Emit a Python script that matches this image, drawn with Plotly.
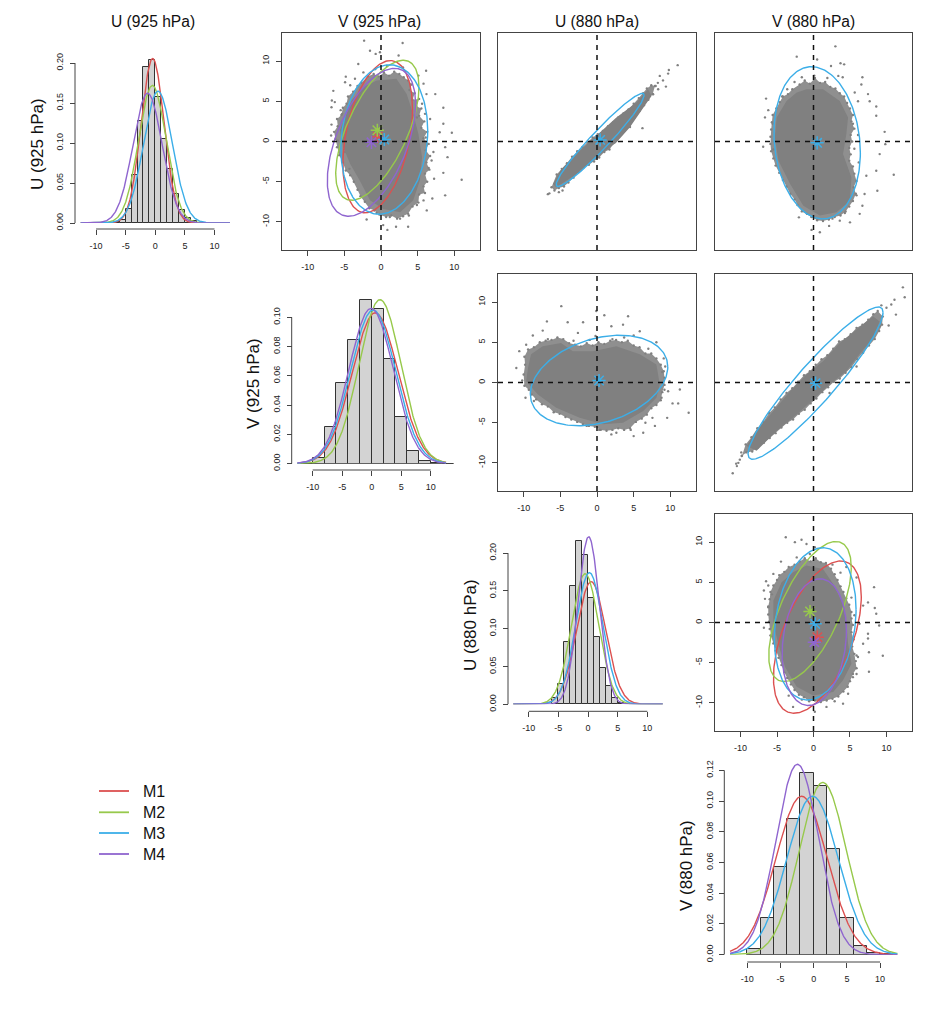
import numpy as np
import plotly.graph_objects as go

W, H = 941, 1035
H_DRAWN = 1027  # the vertical span the page actually gives the figure
model_names = ["M1", "M2", "M3", "M4"]
model_colors = ["#DC5050", "#97C94B", "#3BAEE8", "#8F65CF"]

var_labels = ["U (925 hPa)", "V (925 hPa)", "U (880 hPa)", "V (880 hPa)"]

# histograms: left bin edges, bin width, density
hist_u925_left = [-7, -6, -5, -4, -3, -2, -1, 0, 1, 2, 3, 4, 5, 6, 7]
hist_u925_dens = [0.001, 0.004, 0.017, 0.060, 0.128, 0.195, 0.204, 0.158, 0.105, 0.068, 0.036, 0.016, 0.006, 0.002, 0.0005]
hist_v925_left = [-12, -10, -8, -6, -4, -2, 0, 2, 4, 6, 8, 10, 12]
hist_v925_dens = [0.0, 0.004, 0.025, 0.055, 0.0845, 0.1115, 0.106, 0.0715, 0.032, 0.0085, 0.0018, 0.0005, 0.0]
hist_u880_left = [-6, -5, -4, -3, -2, -1, 0, 1, 2, 3, 4, 5, 6, 7]
hist_u880_dens = [0.008, 0.027, 0.083, 0.157, 0.216, 0.197, 0.141, 0.089, 0.048, 0.024, 0.008, 0.002, 0.001, 0.0003]
hist_v880_left = [-10, -8, -6, -4, -2, 0, 2, 4, 6, 8, 10]
hist_v880_dens = [0.0035, 0.0238, 0.0568, 0.0885, 0.1185, 0.110, 0.0685, 0.0238, 0.0055, 0.001, 0.0002]

# normal fits per model (M1..M4)
u925_mean = [-0.45, -0.5, 0.45, -1.3]
u925_sd = [1.94, 2.32, 2.42, 2.46]
v925_mean = [0.6, 1.4, 0.25, -0.1]
v925_sd = [3.87, 3.56, 3.80, 3.76]
u880_mean = [0.53, -0.48, 0.23, 0.11]
u880_sd = [2.46, 2.31, 2.29, 1.80]
v880_mean = [-1.82, 1.37, -0.17, -2.45]
v880_sd = [3.87, 3.56, 3.87, 3.22]

# correlations for panels showing all four models
rho_u925_v925 = [0.36, 0.62, 0.12, 0.52]
rho_u880_v880 = [0.53, 0.63, 0.19, 0.18]

# M3 only panels: x mean, y mean, x sd, y sd, rho
m3_r1c3 = [0.43, 0.2, 2.45, 2.37, 0.96]
m3_r1c4 = [0.5, -0.16, 2.42, 3.87, -0.13]
m3_r2c3 = [0.28, 0.25, 3.83, 2.30, 0.30]
m3_r2c4 = [0.28, -0.08, 3.78, 3.87, 0.93]

# dense-cloud outlines, fuzzy-edge outlines and separate points
cloud_r1c2_x = [-0.6, 2.1, 3.5, 4.4, 5.1, 5.6, 5.3, 4.4, 2.6, 0.3, -1.5, -2.9, -4.2, -5.15, -5.6, -4.7, -4.0, -2.4]
cloud_r1c2_y = [7.6, 7.8, 5.9, 3.4, 0.95, -1.95, -4.85, -7.3, -8.8, -8.4, -7.3, -4.85, -2.8, -0.7, 1.4, 3.4, 5.1, 6.75]
ring_r1c2_x = [-1.8, -1.0, -0.3, 0.4, 1.1, 1.8, 2.5, 3.1, 3.7, 4.2, 3.9, 4.6, 4.3, 5.2, 4.8, 5.5, 5.2, 5.9, 5.5, 6.3, 5.8, 6.5, 6.1, 6.7, 6.2, 6.6, 6.0, 6.3, 5.8, 6.0, 5.2, 5.1, 4.3, 3.7, 3.0, 2.2, 1.4, 0.7, -0.2, -0.9, -1.6, -2.2, -2.8, -3.2, -3.7, -4.2, -4.8, -5.2, -5.7, -6.0, -6.2, -6.4, -5.9, -6.0, -5.4, -5.2, -4.7, -4.5, -3.8, -3.2, -2.7]
ring_r1c2_y = [8.1, 8.4, 8.1, 8.6, 8.2, 8.7, 8.4, 8.0, 7.6, 7.1, 6.4, 6.0, 5.2, 5.3, 4.4, 4.1, 3.2, 2.5, 1.7, 1.2, 0.4, -0.3, -1.1, -1.8, -2.6, -3.5, -4.0, -5.0, -5.6, -6.4, -6.6, -7.6, -8.1, -9.0, -9.3, -9.6, -9.2, -9.4, -9.1, -8.6, -8.3, -7.5, -6.8, -6.0, -5.0, -4.2, -3.6, -2.6, -1.7, -0.7, 0.3, 1.2, 1.9, 2.8, 3.3, 4.2, 4.7, 5.6, 6.2, 6.9, 7.3]
pts_r1c2_x = [-2.3, 2.95, -1.5, -0.14, -0.73, 2.4, -3.1, -4.8, -4.9, -6.5, -6.7, -6.3, -6.75, -5.3, -6.75, -6.8, 6.15, 7.4, 8.5, 8.5, 8.0, 9.66, 8.75, 9.07, 11.0, 8.75, 7.0, 6.24, 3.7, 2.05, 0.87, -1.96, 0.3, 8.5, 7.24, 5.8, 7.15, 6.9, 6.2, 5.8, 5.1, 4.9, 6.0, 6.7, -4.2, -3.55, -2.4, -0.8, 0.8, 3.0, 5.6, 6.1, 6.5, 4.9, 3.8, 2.6, 1.2, -0.6, -5.9, -5.5, -4.9, -4.3]
pts_r1c2_y = [12.55, 12.25, 11.3, 11.1, 10.9, 10.7, 9.65, 8.07, 7.37, 6.3, 5.1, 4.9, 4.27, 3.44, 2.1, 0.75, 8.8, 5.9, 4.2, 2.2, 1.16, 1.08, -0.7, -1.95, -4.76, -6.7, -7.1, -8.57, -10.6, -10.6, -11.0, -9.7, -10.4, -3.9, -4.64, -7.33, -1.3, -2.36, 5.9, 7.2, 8.2, 3.0, 3.44, 2.8, 7.0, 7.8, 8.6, 9.0, 9.4, 9.2, 4.7, 0.5, -3.3, -7.9, -9.2, -9.6, -9.4, -8.9, 0.1, 3.9, -1.3, -3.4]

cloud_r1c3_x = [-5.56, -2.82, -0.09, 2.64, 4.46, 6.06, 7.43, 6.97, 5.38, 2.64, -0.09, -2.6, -4.87, -6.0]
cloud_r1c3_y = [-5.7, -4.06, -2.0, -0.12, 1.74, 3.8, 5.67, 6.5, 4.84, 2.98, 0.7, -1.37, -3.44, -5.3]
ring_r1c3_x = [-6.2, -5.8, -5.2, -4.5, -3.9, -3.2, -2.5, -1.8, -1.1, -0.4, 0.3, 1.0, 1.7, 2.4, 3.1, 3.8, 4.5, 5.1, 5.8, 6.4, 7.0, 7.6, 7.9, 7.4, 6.8, 6.3, 5.7, 5.0, 4.3, 3.6, 2.9, 2.2, 1.5, 0.8, 0.1, -0.6, -1.3, -2.0, -2.7, -3.4, -4.1, -4.8, -5.5]
ring_r1c3_y = [-5.7, -6.1, -5.8, -5.6, -5.1, -4.5, -3.8, -3.2, -2.9, -2.5, -2.0, -1.3, -1.0, -0.1, 0.7, 1.4, 1.8, 3.0, 3.8, 4.5, 5.2, 5.9, 6.9, 7.0, 6.6, 6.0, 5.4, 4.7, 4.0, 3.5, 3.0, 2.4, 1.9, 1.3, 0.9, 0.5, -0.1, -0.7, -1.2, -1.9, -2.7, -3.4, -4.1]
pts_r1c3_x = [-6.7, -6.5, 11.0, 9.8, 9.7, 8.56, 9.0, 8.3, 9.4, 6.2, 7.65, 8.34, -5.2, -4.7, 8.0]
pts_r1c3_y = [-6.55, -6.45, 9.5, 8.9, 8.45, 8.16, 7.6, 7.3, 6.83, 1.66, 5.88, 6.5, -6.3, -6.1, 6.9]

cloud_r1c4_x = [-0.96, 1.32, 3.6, 4.74, 4.5, 4.05, 5.2, 5.0, 3.14, 0.87, -1.4, -3.2, -4.8, -5.3, -5.05, -3.7, -2.3]
cloud_r1c4_y = [6.5, 6.5, 5.05, 3.0, 0.9, -1.57, -4.47, -7.37, -8.8, -9.2, -8.0, -5.3, -2.4, 0.5, 3.0, 5.05, 6.1]
ring_r1c4_x = [-1.9, -1.2, -0.5, 0.2, 0.9, 1.6, 2.3, 3.0, 3.6, 4.2, 4.6, 5.0, 5.4, 5.2, 5.6, 5.1, 5.3, 4.9, 5.1, 4.9, 5.4, 5.6, 5.9, 5.5, 5.8, 5.4, 4.9, 4.4, 3.7, 2.9, 2.1, 1.3, 0.5, -0.3, -0.9, -1.6, -2.2, -2.6, -3.2, -3.7, -4.2, -4.7, -5.2, -5.5, -5.8, -5.9, -5.9, -5.8, -5.7, -5.6, -5.1, -4.6, -4.2, -3.5, -2.9]
ring_r1c4_y = [7.1, 7.6, 7.2, 7.9, 7.3, 7.4, 6.8, 6.6, 6.0, 5.6, 4.8, 4.1, 3.3, 2.5, 1.6, 0.8, 0.0, -0.8, -1.6, -2.4, -3.1, -4.0, -4.9, -5.7, -6.5, -7.4, -8.1, -8.7, -9.2, -9.4, -9.7, -9.9, -9.8, -9.4, -9.0, -8.7, -7.9, -7.2, -6.5, -5.6, -4.8, -3.9, -3.0, -2.1, -1.2, -0.3, 0.6, 1.5, 2.4, 3.3, 4.1, 4.9, 5.6, 5.9, 6.5]
pts_r1c4_x = [3.0, -2.3, 0.5, 3.7, 4.2, 2.4, 6.7, 3.4, 4.0, 6.56, 7.47, 7.7, 5.65, 8.6, 6.1, -6.5, -6.2, -6.65, -6.9, 9.75, 9.84, 8.6, 9.07, 11.0, 7.24, 8.6, 8.75, 7.0, 6.7, 6.33, 5.0, 3.6, 0.87, -0.27, -2.0, 2.14, 5.4, 6.1, 5.6, 6.2, 5.9, -5.6, -5.5, -4.3, -3.6, -2.6, -1.6, 0.1, 1.9, 2.6, 4.3]
pts_r1c4_y = [11.84, 10.56, 10.2, 9.73, 9.6, 9.4, 8.0, 8.16, 8.0, 7.1, 5.9, 5.0, 6.1, 4.35, 5.0, 5.34, 3.9, 3.0, -0.66, 1.2, -0.33, 3.2, -1.57, -4.14, -4.27, -3.64, -6.13, -6.54, -8.0, -9.0, -10.06, -9.85, -11.3, -11.0, -9.44, -10.5, 2.2, 0.8, -0.9, -2.6, -6.7, 2.2, -1.0, 5.6, 6.5, 7.4, 8.0, 8.2, 7.9, -9.6, -8.9]

cloud_r2c3_x = [-9.4, -9.0, -7.4, -4.9, -3.3, -0.55, 2.64, 5.83, 8.1, 8.56, 8.1, 6.3, 3.55, 0.82, -2.37, -5.56, -8.06, -9.66]
cloud_r2c3_y = [1.82, 3.5, 4.5, 4.9, 3.9, 3.9, 4.5, 3.5, 2.24, -0.25, -1.9, -3.56, -5.0, -5.2, -4.4, -3.15, -1.5, 0.17]
ring_r2c3_x = [-10.0, -9.8, -9.9, -9.4, -8.6, -7.8, -7.0, -6.2, -5.4, -4.6, -3.8, -3.0, -2.2, -1.4, -0.6, 0.2, 1.0, 1.8, 2.6, 3.4, 4.2, 5.0, 5.8, 6.6, 7.4, 8.1, 8.7, 9.1, 9.2, 9.2, 8.9, 8.7, 8.1, 7.4, 6.8, 6.1, 5.3, 4.5, 3.7, 2.9, 2.1, 1.3, 0.5, -0.3, -1.1, -1.9, -2.7, -3.5, -4.3, -5.1, -5.9, -6.7, -7.5, -8.3, -8.9, -9.3, -9.9]
ring_r2c3_y = [1.0, 2.2, 3.2, 4.1, 4.4, 5.0, 5.2, 5.3, 5.6, 5.4, 4.9, 4.7, 4.5, 4.9, 4.6, 5.0, 4.8, 5.2, 5.3, 5.0, 5.2, 4.6, 4.4, 3.6, 3.6, 3.0, 2.2, 1.4, 0.6, -0.3, -1.2, -2.2, -2.8, -3.2, -4.0, -4.5, -4.9, -5.7, -5.9, -5.7, -5.9, -6.0, -5.9, -5.5, -5.4, -5.2, -4.9, -4.6, -4.3, -3.9, -3.7, -3.0, -2.7, -2.1, -1.5, -0.9, -0.4]
pts_r2c3_x = [-4.87, -0.1, 1.0, 4.24, -1.9, -4.0, -6.83, 3.55, 1.96, -7.4, 5.83, 5.0, -8.75, -2.6, 8.1, -9.66, -10.6, -11.0, -10.2, -9.75, 9.1, 9.3, 9.9, 11.3, 9.7, 11.07, 10.3, 12.5, 9.57, 7.9, 7.56, 6.3, 5.0, 1.96, 2.64, 8.8, -1.0, 2.1, 3.7, -3.2, -0.2, 7.0, 8.9, 9.2, -8.6, -6.7, 4.6, 6.6, -1.4, 0.3]
pts_r2c3_y = [9.5, 8.9, 8.36, 8.24, 7.5, 7.5, 7.6, 7.2, 7.0, 6.46, 6.38, 5.84, 5.84, 6.17, 5.0, 4.7, 3.9, 1.8, 0.25, -1.9, 3.0, 2.0, 0.17, -0.87, -1.08, -2.6, -2.6, -3.77, -4.4, -5.4, -4.4, -6.25, -6.67, -6.46, -6.25, -1.9, 5.3, 5.4, 5.6, 5.2, 5.8, 4.2, 1.3, -0.9, -2.3, 5.4, -5.9, -5.0, -5.4, -5.9]

cloud_r2c4_x = [-7.8, -5.06, -2.3, -0.05, 2.2, 4.5, 6.3, 8.15, 9.07, 8.15, 5.9, 3.6, 1.3, -0.96, -3.2, -5.5, -7.8, -9.16]
cloud_r2c4_y = [-8.5, -6.05, -3.98, -2.1, -0.25, 1.4, 3.5, 5.5, 7.6, 8.24, 6.6, 4.9, 2.65, 1.0, -1.1, -3.56, -6.0, -7.9]
ring_r2c4_x = [-9.8, -9.2, -8.4, -7.6, -6.8, -6.0, -5.2, -4.4, -3.6, -2.8, -2.0, -1.2, -0.4, 0.4, 1.2, 2.0, 2.8, 3.6, 4.4, 5.2, 6.0, 6.8, 7.6, 8.4, 9.0, 9.4, 9.5, 8.8, 8.2, 7.5, 6.7, 5.9, 5.1, 4.3, 3.5, 2.7, 1.9, 1.1, 0.3, -0.5, -1.3, -2.1, -2.9, -3.7, -4.5, -5.3, -6.1, -6.9, -7.7, -8.5, -9.3]
ring_r2c4_y = [-9.1, -8.7, -8.6, -8.1, -7.5, -6.9, -6.3, -5.6, -5.0, -4.6, -3.9, -3.4, -2.6, -2.0, -1.2, -0.6, 0.1, 0.5, 1.2, 1.9, 2.9, 3.7, 4.6, 5.4, 6.4, 7.2, 8.2, 8.9, 8.5, 7.8, 7.2, 6.8, 6.0, 5.4, 5.1, 4.2, 3.4, 2.9, 2.2, 1.4, 0.9, 0.1, -0.7, -1.3, -2.1, -3.1, -3.8, -4.9, -5.7, -6.8, -7.7]
pts_r2c4_x = [-11.07, -10.5, -10.3, -9.84, 12.25, 12.5, 11.1, 10.66, 10.0, 11.3, 9.3, 10.3, 9.07, 5.9, 2.2, -10.6, -10.1, -9.9]
pts_r2c4_y = [-11.3, -10.4, -10.0, -9.15, 11.84, 10.6, 10.3, 9.7, 9.3, 8.45, 9.6, 7.1, 7.0, 2.0, -1.3, -10.1, -9.6, -8.7]

cloud_r3c4_x = [-0.96, 1.3, 2.7, 4.05, 4.5, 4.74, 5.2, 4.05, 2.7, -0.05, -2.3, -3.9, -4.83, -5.5, -5.5, -4.37, -2.8]
cloud_r3c4_y = [7.1, 6.67, 4.8, 2.3, -0.17, -2.65, -5.13, -7.2, -8.65, -9.07, -8.0, -5.55, -2.65, -0.17, 2.73, 5.0, 6.25]
ring_r3c4_x = [-4.7, -4.0, -3.4, -2.6, -1.9, -1.2, -0.4, 0.3, 1.0, 1.7, 2.4, 2.9, 3.3, 3.7, 4.1, 4.5, 4.9, 5.2, 5.2, 5.4, 5.2, 5.5, 5.3, 5.6, 5.8, 5.9, 5.4, 5.0, 4.7, 4.1, 3.4, 2.6, 1.8, 1.0, 0.2, -0.6, -1.3, -2.0, -2.6, -3.1, -3.6, -4.0, -4.4, -4.8, -5.2, -5.5, -5.8, -6.0, -6.1, -6.2, -6.2, -6.0, -5.9, -5.5, -5.0]
ring_r3c4_y = [5.9, 6.3, 6.9, 7.2, 7.6, 8.0, 7.6, 8.0, 7.5, 7.4, 6.7, 6.0, 5.3, 4.5, 3.8, 3.0, 2.2, 1.3, 0.5, -0.3, -1.2, -2.1, -3.0, -3.9, -4.8, -5.7, -6.4, -7.3, -8.0, -8.6, -9.2, -9.5, -9.7, -9.9, -9.7, -9.8, -9.3, -9.0, -8.4, -7.7, -6.9, -6.2, -5.3, -4.4, -3.5, -2.6, -1.7, -0.8, 0.1, 1.0, 2.0, 2.9, 3.8, 4.6, 5.3]
pts_r3c4_x = [-3.8, -1.64, -2.55, -0.96, 0.18, -0.5, -2.3, -4.46, -5.5, -6.5, -6.8, -6.2, -6.65, -6.2, -6.8, 8.3, 8.4, 7.47, 8.6, 9.0, 7.47, 7.47, 9.5, 7.6, 7.6, 5.9, 6.1, 5.9, 4.74, 4.05, 2.9, 1.78, 0.18, -2.8, 6.8, 5.9, 4.5, 6.3, 5.4, 6.8, 2.6, 3.7, 5.2, 5.6, -3.4, -1.6, -5.9, -5.7]
pts_r3c4_y = [10.6, 10.3, 10.0, 9.77, 9.36, 8.53, 8.1, 7.58, 6.05, 5.13, 3.98, 4.6, 2.94, 1.9, -0.66, 4.4, 1.8, 2.5, 1.08, -0.37, -1.4, -2.0, -4.14, -3.7, -6.13, -4.1, -4.3, -6.4, -8.86, -10.1, -9.8, -10.5, -11.1, -10.5, 2.1, 5.6, 6.9, -0.17, -6.8, -2.65, 7.2, 6.2, 3.1, 0.9, -9.1, -9.6, -1.6, 3.5]

sc_ticks = [-10, -5, 0, 5, 10]
K = 2.447
CLOUD = "#808080"
CLOUD_EDGE = "rgba(128,128,128,0.88)"
AXC = "#444444"
FONT = "Liberation Sans"

fig = go.Figure()
layout = {}
shapes = []
annotations = []
n_axes = 0


def px(v):
    return v / W


def py(v):
    return 1 - v / H_DRAWN


def new_axes(x0, x1, y0, y1):
    global n_axes
    n_axes += 1
    s = "" if n_axes == 1 else str(n_axes)
    return s, "x" + s, "y" + s, (px(x0), px(x1)), (py(y1), py(y0))


def ellipse(mx, my, sx, sy, rho):
    t = np.linspace(0, 2 * np.pi, 241)
    return mx + K * sx * np.cos(t), my + K * sy * np.cos(t - np.arccos(rho))


def tick_font():
    return dict(family=FONT, size=9, color="#222222")


def hist_panel(left, dens, width, means, sds, box, x_zero, x_scale, y_zero, y_scale, axis_x, axis_y, yticks):
    x0, x1, y0, y1 = box
    s, xr, yr, dx, dy = new_axes(x0, x1, y0, y1)
    fig.add_trace(go.Bar(x=[l + width / 2 for l in left], y=dens, width=width,
                         marker=dict(color="#D3D3D3", line=dict(color="#333333", width=1)),
                         xaxis=xr, yaxis=yr, showlegend=False))
    grid = np.linspace(-12.6, 12.6, 301)
    for m, sd, c, name in zip(means, sds, model_colors, model_names):
        dn = np.exp(-0.5 * ((grid - m) / sd) ** 2) / (sd * np.sqrt(2 * np.pi))
        fig.add_trace(go.Scatter(x=grid, y=dn, mode="lines", name=name, line=dict(color=c, width=1.4),
                                 xaxis=xr, yaxis=yr, showlegend=False, cliponaxis=False))
    layout["xaxis" + s] = dict(domain=dx, range=[(x0 - x_zero) / x_scale, (x1 - x_zero) / x_scale],
                               anchor="free", position=py(axis_y), showgrid=False, zeroline=False, showline=False,
                               ticks="outside", ticklen=5, tickcolor=AXC, tickvals=sc_ticks,
                               ticktext=[str(v) for v in sc_ticks], tickfont=tick_font(), ticklabelstandoff=3)
    layout["yaxis" + s] = dict(domain=dy, range=[(y_zero - y1) / y_scale, (y_zero - y0) / y_scale],
                               anchor="free", position=px(axis_x), showgrid=False, zeroline=False, showline=False,
                               ticks="outside", ticklen=5, tickcolor=AXC, tickvals=yticks,
                               ticktext=["%.2f" % v for v in yticks], tickangle=-90, tickfont=tick_font(),
                               ticklabelstandoff=3)
    shapes.append(dict(type="line", xref=xr, x0=-10, x1=10, yref="paper", y0=py(axis_y), y1=py(axis_y),
                       line=dict(color=AXC, width=1)))
    shapes.append(dict(type="line", xref="paper", x0=px(axis_x), x1=px(axis_x), yref=yr, y0=yticks[0], y1=yticks[-1],
                       line=dict(color=AXC, width=1)))


def scatter_panel(box, cx, cy, rx, ry, ptx, pty, ells, centers, show_x, show_y):
    x0, x1, y0, y1 = box
    s, xr, yr, dx, dy = new_axes(x0, x1, y0, y1)
    fig.add_trace(go.Scatter(x=rx, y=ry, mode="lines", fill="toself", fillcolor=CLOUD_EDGE, line=dict(width=0),
                             xaxis=xr, yaxis=yr, showlegend=False, hoverinfo="skip"))
    fig.add_trace(go.Scatter(x=cx, y=cy, mode="lines", fill="toself", fillcolor=CLOUD, line=dict(width=0),
                             xaxis=xr, yaxis=yr, showlegend=False, hoverinfo="skip"))
    fig.add_trace(go.Scatter(x=list(rx) + list(ptx), y=list(ry) + list(pty), mode="markers",
                             marker=dict(color=CLOUD, size=2.4), xaxis=xr, yaxis=yr, showlegend=False))
    shapes.append(dict(type="line", xref=xr, x0=0, x1=0, yref=yr, y0=-13.5, y1=13.5,
                       line=dict(color="#111111", width=1.5, dash="5px,5px")))
    shapes.append(dict(type="line", xref=xr, x0=-13.5, x1=13.5, yref=yr, y0=0, y1=0,
                       line=dict(color="#111111", width=1.5, dash="5px,5px")))
    for (e, c) in zip(ells, centers):
        ex, ey = ellipse(*e)
        fig.add_trace(go.Scatter(x=ex, y=ey, mode="lines", line=dict(color=c, width=1.4),
                                 xaxis=xr, yaxis=yr, showlegend=False, hoverinfo="skip"))
    for (e, c) in zip(ells, centers):
        fig.add_trace(go.Scatter(x=[e[0]], y=[e[1]], mode="markers",
                                 marker=dict(symbol="asterisk-open", size=11, color=c, line=dict(color=c, width=1.5)),
                                 xaxis=xr, yaxis=yr, showlegend=False))
    layout["xaxis" + s] = dict(domain=dx, range=[-13.5, 13.5], anchor=yr, showgrid=False, zeroline=False, showline=True,
                               mirror=True, linecolor=AXC, linewidth=1,
                               ticks="outside" if show_x else "", ticklen=5, tickcolor=AXC,
                               tickvals=sc_ticks if show_x else [], ticktext=[str(v) for v in sc_ticks] if show_x else [],
                               tickfont=tick_font(), ticklabelstandoff=3)
    layout["yaxis" + s] = dict(domain=dy, range=[-13.5, 13.5], anchor=xr, showgrid=False, zeroline=False, showline=True,
                               mirror=True, linecolor=AXC, linewidth=1,
                               ticks="outside" if show_y else "", ticklen=5, tickcolor=AXC,
                               tickvals=sc_ticks if show_y else [], ticktext=[str(v) for v in sc_ticks] if show_y else [],
                               tickangle=-90, tickfont=tick_font(), ticklabelstandoff=3)


hist_panel(hist_u925_left, hist_u925_dens, 1, u925_mean, u925_sd, (78, 232, 50, 222), 155.3, 5.92, 222, 800, 75, 228,
           [0, 0.05, 0.10, 0.15, 0.20])
hist_panel(hist_v925_left, hist_v925_dens, 2, v925_mean, v925_sd, (294, 454, 290, 462.7), 371.7, 5.9, 462.7, 1464, 291.7, 469,
           [0, 0.02, 0.04, 0.06, 0.08, 0.10])
hist_panel(hist_u880_left, hist_u880_dens, 1, u880_mean, u880_sd, (510, 665, 530, 703.3), 588, 5.93, 703.3, 756, 508, 710.3,
           [0, 0.05, 0.10, 0.15, 0.20])
hist_panel(hist_v880_left, hist_v880_dens, 2, v880_mean, v880_sd, (727, 899, 760, 953.7), 813.7, 6.64, 953.7, 1537, 724.3, 961,
           [0, 0.02, 0.04, 0.06, 0.08, 0.10, 0.12])

full_u925_v925 = [(u925_mean[i], v925_mean[i], u925_sd[i], v925_sd[i], rho_u925_v925[i]) for i in range(4)]
full_u880_v880 = [(u880_mean[i], v880_mean[i], u880_sd[i], v880_sd[i], rho_u880_v880[i]) for i in range(4)]
m3c = [model_colors[2]]

scatter_panel((282, 480, 32, 249), cloud_r1c2_x, cloud_r1c2_y, ring_r1c2_x, ring_r1c2_y, pts_r1c2_x, pts_r1c2_y, full_u925_v925, model_colors, True, True)
scatter_panel((498, 696, 32, 249), cloud_r1c3_x, cloud_r1c3_y, ring_r1c3_x, ring_r1c3_y, pts_r1c3_x, pts_r1c3_y, [m3_r1c3], m3c, False, False)
scatter_panel((715, 912, 32, 249), cloud_r1c4_x, cloud_r1c4_y, ring_r1c4_x, ring_r1c4_y, pts_r1c4_x, pts_r1c4_y, [m3_r1c4], m3c, False, False)
scatter_panel((498, 696, 273, 490), cloud_r2c3_x, cloud_r2c3_y, ring_r2c3_x, ring_r2c3_y, pts_r2c3_x, pts_r2c3_y, [m3_r2c3], m3c, True, True)
scatter_panel((715, 912, 273, 490), cloud_r2c4_x, cloud_r2c4_y, ring_r2c4_x, ring_r2c4_y, pts_r2c4_x, pts_r2c4_y, [m3_r2c4], m3c, False, False)
scatter_panel((715, 912, 513, 730), cloud_r3c4_x, cloud_r3c4_y, ring_r3c4_x, ring_r3c4_y, pts_r3c4_x, pts_r3c4_y, full_u880_v880, model_colors, True, True)

for label, cx, cy in zip(var_labels, [153, 379, 597, 813], [21, 21, 21, 21]):
    annotations.append(dict(text=label, xref="paper", yref="paper", x=px(cx), y=py(cy), showarrow=False,
                            xanchor="center", yanchor="middle", font=dict(family=FONT, size=15.6, color="#111111")))
for label, cx, cy in zip(var_labels, [38, 253, 470, 686], [143, 382, 624, 865]):
    annotations.append(dict(text=label, xref="paper", yref="paper", x=px(cx), y=py(cy), showarrow=False, textangle=-90,
                            xanchor="center", yanchor="middle", font=dict(family=FONT, size=17, color="#111111")))

for name, c, ly in zip(model_names, model_colors, [790, 811.3, 832, 853]):
    shapes.append(dict(type="line", xref="paper", yref="paper", x0=px(99), x1=px(129), y0=py(ly), y1=py(ly),
                       line=dict(color=c, width=1.8)))
    annotations.append(dict(text=name, xref="paper", yref="paper", x=px(140.5), y=py(ly), showarrow=False,
                            xanchor="left", yanchor="middle", font=dict(family=FONT, size=16, color="#111111")))

fig.update_layout(width=W, height=H, margin=dict(l=0, r=0, t=0, b=0), paper_bgcolor="white", plot_bgcolor="rgba(0,0,0,0)",
                  showlegend=False, bargap=0, shapes=shapes, annotations=annotations, **layout)
fig.write_html("out.html", config={"displayModeBar": False}, post_script="document.body.style.margin='0';")
